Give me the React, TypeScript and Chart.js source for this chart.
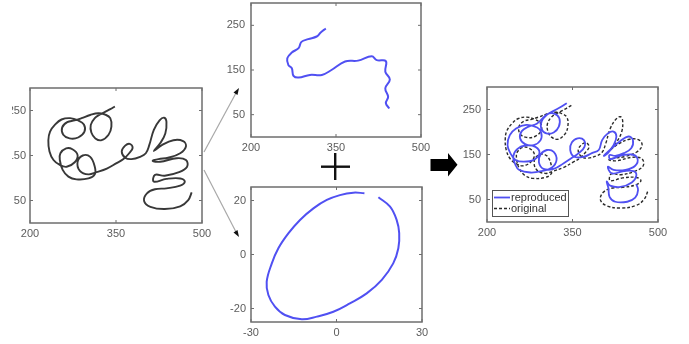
import React, { useEffect, useRef } from "react";
import { Chart, registerables } from "chart.js";
Chart.register(...registerables);

// ---- tick values ----
const penXTicks = [200, 350, 500];
const penYTicks = [50, 150, 250];
const rotXTicks = [-30, 0, 30];
const rotYTicks = [-20, 0, 20];

// ---- original handwriting (left panel, and dashed "original" in right panel) ----
const originalX = [348, 340, 331, 322, 313, 306, 307, 314, 325, 337, 342, 340, 331, 319, 305, 290, 278, 265, 256, 258,
  269, 284, 295, 294, 284, 270, 255, 244, 235, 232, 234, 241, 252, 264, 278, 283, 274, 263, 253, 252,
  257, 267, 281, 302, 313, 313, 305, 292, 283, 287, 302, 316, 334, 351, 363, 373, 379, 374, 366, 360,
  366, 377, 392, 402, 408, 416, 426, 434, 438, 436, 427, 416, 430, 450, 467, 472, 462, 441, 424, 414,
  427, 456, 472, 474, 460, 435, 418, 416, 438, 462, 470, 462, 438, 418, 404, 399, 410, 435, 462, 476, 482];
const originalY = [259, 253, 247, 241, 233, 218, 201, 188, 184, 196, 214, 233, 241, 244, 240, 233, 228, 224, 212, 196,
  188, 190, 203, 219, 228, 233, 230, 219, 203, 184, 159, 140, 129, 125, 135, 151, 164, 166, 155, 140,
  118, 103, 97, 99, 108, 125, 147, 150, 136, 116, 108, 113, 121, 133, 142, 155, 167, 176, 172, 159,
  145, 142, 147, 155, 173, 207, 228, 234, 225, 199, 177, 160, 173, 184, 182, 170, 155, 145, 142, 138,
  136, 144, 140, 125, 113, 105, 107, 92, 98, 99, 92, 83, 77, 75, 66, 49, 36, 31, 37, 51, 68];

// ---- extracted trajectory (top middle) ----
const trajX = [332, 323, 316, 301, 289, 284, 272, 264, 266, 272, 275, 284, 304, 325, 342, 366, 389, 413, 422, 438, 437, 445, 437, 442, 438, 444];
const trajY = [243, 234, 225, 219, 213, 199, 189, 176, 161, 154, 137, 133, 139, 139, 150, 169, 171, 181, 172, 170, 146, 129, 109, 90, 76, 64];

// ---- extracted rotation (bottom middle) ----
const rotX = [9.8, 5.9, 1.2, -3.4, -8.1, -12.8, -16.9, -20.4, -22.7, -24.5, -23.9, -21.6, -18.1, -12.2, -6.9, -1.1, 4.7, 10.6, 15.9, 19.9, 21.7, 22.0, 21.1, 18.8, 14.7];
const rotY = [22.7, 22.9, 22.0, 20.2, 17.1, 12.8, 7.8, 2.3, -3.3, -10.1, -15.0, -19.3, -22.4, -24.0, -23.0, -21.2, -18.1, -14.4, -9.4, -3.3, 2.3, 7.9, 12.8, 17.7, 21.2];

// ---- reproduced handwriting (right panel, blue) ----
const reproX = [340, 330, 317, 305, 296, 295, 304, 317, 326, 327, 318, 305, 288, 273, 261, 258, 267, 282, 294, 295,
  288, 269, 251, 240, 236, 241, 250, 264, 282, 292, 285, 267, 253, 246, 250, 256, 276, 296, 314, 322,
  317, 305, 294, 291, 299, 317, 334, 346, 361, 371, 370, 359, 349, 346, 353, 370, 384, 396, 402, 412,
  422, 427, 422, 412, 405, 419, 434, 448, 456, 453, 440, 425, 415, 416, 434, 454, 464, 460, 443, 422,
  412, 419, 440, 457, 462, 454, 434, 416, 410, 413, 415, 425, 446, 460, 465, 462];
const reproY = [264, 256, 247, 238, 224, 208, 197, 199, 212, 230, 241, 239, 219, 212, 202, 186, 173, 171, 182, 199,
  210, 216, 208, 193, 171, 153, 138, 134, 138, 153, 167, 170, 162, 145, 127, 116, 110, 113, 121, 138,
  156, 160, 150, 133, 118, 118, 130, 140, 153, 167, 182, 186, 177, 160, 145, 145, 153, 160, 182, 197,
  201, 190, 171, 153, 147, 164, 180, 190, 182, 164, 153, 147, 149, 140, 147, 150, 141, 125, 116, 116,
  123, 108, 113, 113, 103, 88, 78, 81, 90, 75, 56, 45, 45, 54, 71, 84];

const zip = (xs: number[], ys: number[]) => xs.map((x, i) => ({ x, y: ys[i] }));

const FONT_FAMILY = "'Liberation Sans', Arial, Helvetica, sans-serif";
const TICK_COLOR = "#5c5c5c";
const FRAME_COLOR = "#6e6e6e";
const BLUE = "#5050f2";
const INK = "#383838";

const AXW = 44;
const AXH = 22;
const PT = 6;
const PR = 18;

const frameTicks = {
  id: "frameTicks",
  afterDraw(chart: any, _args: any, opts: any) {
    const { ctx } = chart;
    const { left, top, right, bottom } = chart.chartArea;
    const xs = chart.scales.x;
    const ys = chart.scales.y;
    ctx.save();
    ctx.setLineDash([]);
    ctx.strokeStyle = FRAME_COLOR;
    ctx.lineWidth = 1.5;
    ctx.strokeRect(left, top, right - left, bottom - top);
    ctx.lineWidth = 1;
    ctx.beginPath();
    xs.ticks.forEach((t: any) => {
      const p = xs.getPixelForValue(t.value);
      ctx.moveTo(p, bottom);
      ctx.lineTo(p, bottom - 3);
      ctx.moveTo(p, top);
      ctx.lineTo(p, top + 3);
    });
    ys.ticks.forEach((t: any) => {
      const p = ys.getPixelForValue(t.value);
      ctx.moveTo(left, p);
      ctx.lineTo(left + 3, p);
      ctx.moveTo(right, p);
      ctx.lineTo(right - 3, p);
    });
    ctx.stroke();

    if (opts && opts.legend) {
      const bx = left + 5;
      const by = bottom - 32;
      const bw = 76;
      const bh = 26;
      ctx.fillStyle = "#ffffff";
      ctx.fillRect(bx, by, bw, bh);
      ctx.strokeStyle = "#555555";
      ctx.lineWidth = 1;
      ctx.strokeRect(bx + 0.5, by + 0.5, bw, bh);
      chart.data.datasets.forEach((ds: any, i: number) => {
        const yy = by + 7.5 + i * 11;
        ctx.strokeStyle = ds.borderColor;
        ctx.lineWidth = ds.borderWidth;
        ctx.setLineDash(ds.borderDash || []);
        ctx.beginPath();
        ctx.moveTo(bx + 2, yy);
        ctx.lineTo(bx + 18, yy);
        ctx.stroke();
        ctx.setLineDash([]);
        ctx.fillStyle = "#333333";
        ctx.font = `11px ${FONT_FAMILY}`;
        ctx.textBaseline = "middle";
        ctx.textAlign = "left";
        ctx.fillText(ds.label, bx + 19, yy + 0.5);
      });
    }
    ctx.restore();
  },
};

type Frame = { l: number; t: number; r: number; b: number };
type PanelProps = {
  frame: Frame;
  xMin: number; xMax: number; yMin: number; yMax: number;
  xTicks: number[]; yTicks: number[];
  datasets: any[];
  legend?: boolean;
  clipLeft?: number;
  yPad?: number;
};

function Panel(p: PanelProps) {
  const ref = useRef<HTMLCanvasElement>(null);
  const { frame } = p;
  const w = frame.r - frame.l + AXW + PR;
  const h = frame.b - frame.t + PT + AXH;
  const left = frame.l - AXW;
  const top = frame.t - PT;

  useEffect(() => {
    const tickFont = { family: FONT_FAMILY, size: 11 };
    const chart = new Chart(ref.current as HTMLCanvasElement, {
      type: "scatter",
      data: { datasets: p.datasets },
      plugins: [frameTicks],
      options: {
        responsive: false,
        animation: false,
        devicePixelRatio: 1,
        layout: { padding: { left: 0, top: PT, right: PR, bottom: 0 } },
        elements: { point: { radius: 0, hoverRadius: 0 }, line: { tension: 0.4 } },
        plugins: {
          legend: { display: false },
          tooltip: { enabled: false },
          frameTicks: { legend: !!p.legend },
        } as any,
        scales: {
          x: {
            type: "linear",
            min: p.xMin,
            max: p.xMax,
            grid: { display: false, drawTicks: false },
            border: { display: false },
            ticks: { font: tickFont, color: TICK_COLOR, padding: 4, maxRotation: 0, autoSkip: false, callback: (v: any) => String(v) },
            afterBuildTicks: (s: any) => { s.ticks = p.xTicks.map((v) => ({ value: v })); },
            afterFit: (s: any) => { s.height = AXH; s.paddingLeft = 0; s.paddingRight = 0; },
          },
          y: {
            type: "linear",
            min: p.yMin,
            max: p.yMax,
            grid: { display: false, drawTicks: false },
            border: { display: false },
            ticks: { font: tickFont, color: TICK_COLOR, padding: p.yPad ?? 6, autoSkip: false, callback: (v: any) => String(v) },
            afterBuildTicks: (s: any) => { s.ticks = p.yTicks.map((v) => ({ value: v })); },
            afterFit: (s: any) => { s.width = AXW; s.paddingTop = 0; s.paddingBottom = 0; },
          },
        },
      } as any,
    });
    return () => chart.destroy();
  }, []);

  const canvasStyle: React.CSSProperties = { position: "absolute", width: w, height: h, display: "block" };
  if (p.clipLeft !== undefined) {
    return (
      <div style={{ position: "absolute", left: p.clipLeft, top, width: w - (p.clipLeft - left), height: h, overflow: "hidden" }}>
        <canvas ref={ref} width={w} height={h} style={{ ...canvasStyle, left: left - p.clipLeft, top: 0 }} />
      </div>
    );
  }
  return <canvas ref={ref} width={w} height={h} style={{ ...canvasStyle, left, top }} />;
}

export default function App() {
  const line = (data: any, color: string, width: number, label: string, dash?: number[]) => ({
    label,
    data,
    showLine: true,
    borderColor: color,
    backgroundColor: color,
    borderWidth: width,
    borderDash: dash || [],
    pointRadius: 0,
    fill: false,
    tension: 0.4,
  });

  return (
    <div style={{ position: "absolute", left: 0, top: 0, width: 689, height: 344, background: "#ffffff", overflow: "hidden" }}>
      <Panel
        frame={{ l: 30, t: 88, r: 202, b: 223 }}
        xMin={200} xMax={500} yMin={0} yMax={300}
        xTicks={penXTicks} yTicks={penYTicks}
        clipLeft={12}
        yPad={4}
        datasets={[line(zip(originalX, originalY), INK, 1.9, "original")]}
      />
      <Panel
        frame={{ l: 251, t: 3, r: 421, b: 137 }}
        xMin={200} xMax={500} yMin={0} yMax={300}
        xTicks={penXTicks} yTicks={penYTicks}
        datasets={[line(zip(trajX, trajY), BLUE, 2, "trajectory")]}
      />
      <Panel
        frame={{ l: 251, t: 187, r: 422, b: 322 }}
        xMin={-30} xMax={30} yMin={-25} yMax={25}
        xTicks={rotXTicks} yTicks={rotYTicks}
        yPad={5}
        datasets={[line(zip(rotX, rotY), BLUE, 2, "rotation")]}
      />
      <Panel
        frame={{ l: 487, t: 87, r: 658, b: 222 }}
        xMin={200} xMax={500} yMin={0} yMax={300}
        xTicks={penXTicks} yTicks={penYTicks}
        legend
        datasets={[
          line(zip(reproX, reproY), BLUE, 1.8, "reproduced"),
          line(zip(originalX, originalY), "#2a2a2a", 1.4, "original", [3, 2]),
        ]}
      />
      <svg width={689} height={344} style={{ position: "absolute", left: 0, top: 0, pointerEvents: "none" }}>
        <line x1={204} y1={152} x2={236} y2={93} stroke="#a8a8a8" strokeWidth={1.2} />
        <polygon points="239,88 233.5,92.5 237.5,95" fill="#111" />
        <line x1={204} y1={170} x2={236} y2={232} stroke="#a8a8a8" strokeWidth={1.2} />
        <polygon points="239,237 233.5,232.5 237.5,230" fill="#111" />
        <rect x={334} y={153} width={2.4} height={27} fill="#111" />
        <rect x={321} y={165.5} width={29} height={2.4} fill="#111" />
        <polygon points="430.5,159 448,159 448,153 457.5,164.8 448,176.5 448,171 430.5,171" fill="#000" />
      </svg>
    </div>
  );
}
